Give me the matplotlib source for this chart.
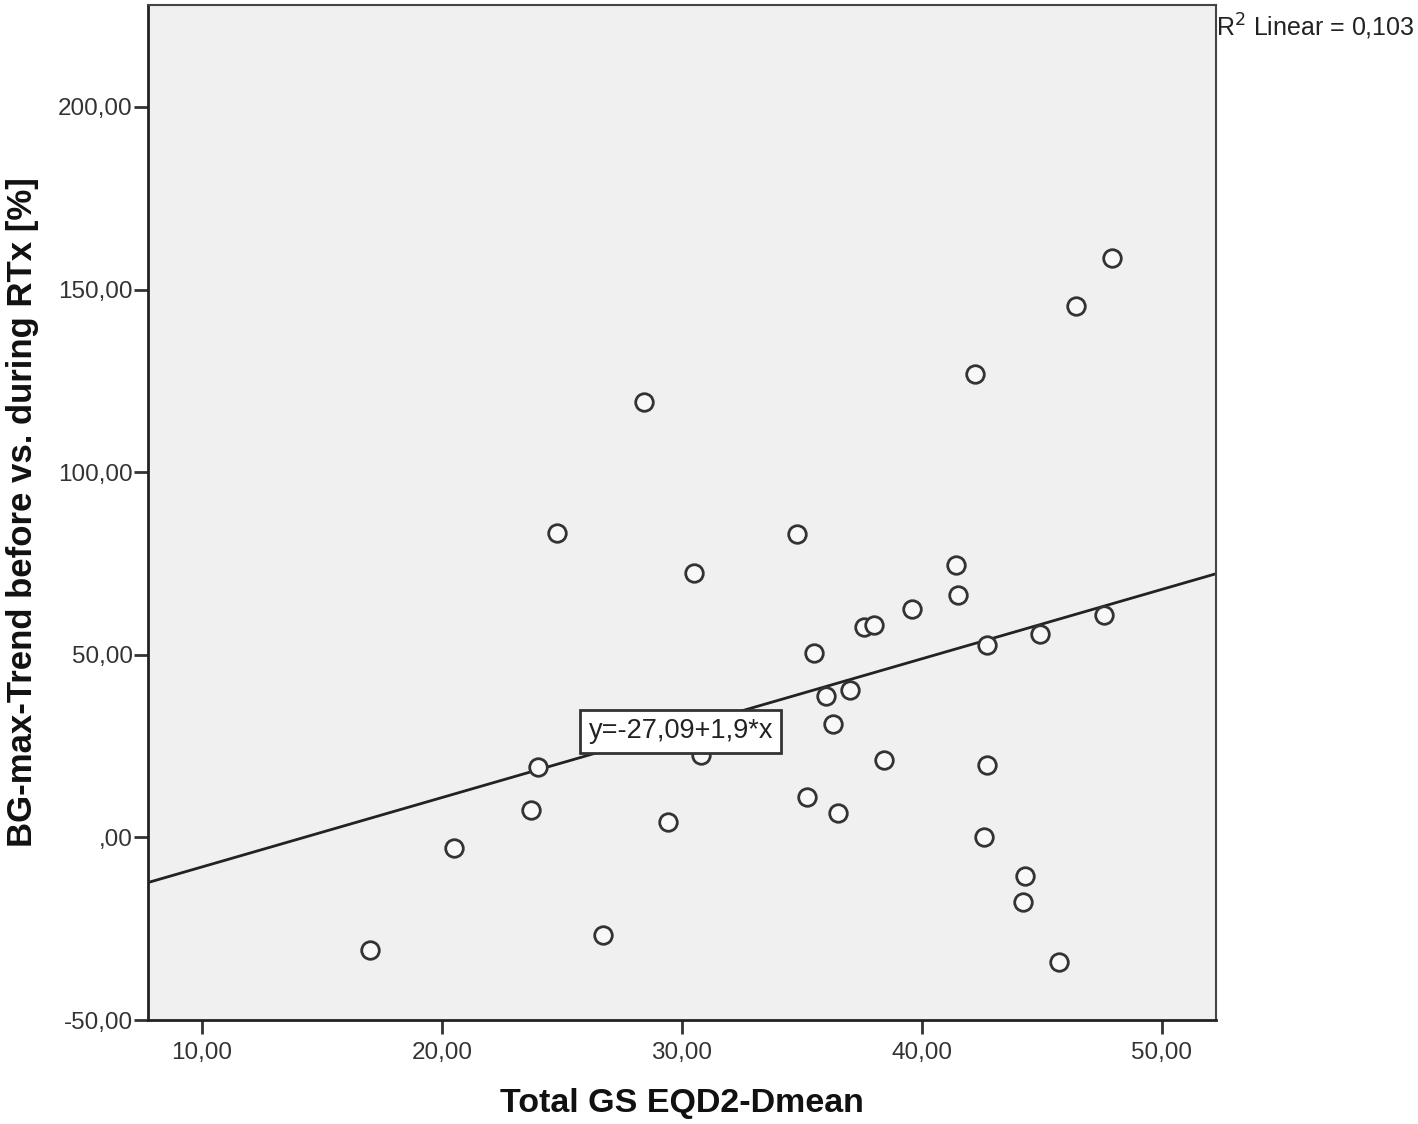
import matplotlib.pyplot as plt
import numpy as np

# Total GS EQD2-Dmean vs. BG-max trend (%)
gs_dmean = [47.9, 46.4, 42.2, 28.4, 24.8, 34.8, 30.5, 41.4, 41.5, 39.6,
            37.6, 38.0, 47.6, 44.9, 42.7, 35.5, 36.0, 37.0, 36.3, 30.8,
            24.0, 38.4, 42.7, 23.7, 35.2, 36.5, 29.4, 42.6, 20.5, 44.3,
            44.2, 17.0, 26.7, 45.7]
bg_trend = [158.6, 145.5, 126.8, 119.2, 83.3, 83.0, 72.3, 74.5, 66.3, 62.5,
            57.5, 58.1, 60.8, 55.6, 52.6, 50.4, 38.6, 40.3, 31.0, 22.5,
            19.2, 21.1, 19.7, 7.4, 11.0, 6.8, 4.1, 0.0, -3.0, -10.7,
            -17.8, -30.7, -26.8, -34.0]

intercept = -27.09
slope = 1.9
r2 = 0.103

x_ticks = [10, 20, 30, 40, 50]
y_ticks = [-50, 0, 50, 100, 150, 200]

FONT = 'Liberation Sans'


def comma(v):
    s = f"{v:.2f}".replace(".", ",")
    if s == "0,00":
        s = ",00"
    return s


fig = plt.figure(figsize=(14.18, 11.24), dpi=100)
ax = fig.add_axes([148 / 1418, 1 - 1020 / 1124, 1068 / 1418, 1015 / 1124])
ax.set_facecolor('#f0f0f0')

xlim = (7.75, 52.25)
ax.set_xlim(xlim)
ax.set_ylim(-50, 227.9)

xs = np.array(xlim)
ax.plot(xs, intercept + slope * xs, color='#222222', linewidth=2, zorder=2)

ax.scatter(gs_dmean, bg_trend, s=160, facecolors='#f8f8f8', edgecolors='#333333',
           linewidths=2, zorder=3)

ax.text(29.95, 29.0, "y=-27,09+1,9*x", fontsize=19.5, color='#222222',
        ha='center', va='center', zorder=4, family=FONT,
        bbox=dict(boxstyle='square,pad=0.3', facecolor='white', edgecolor='#333333', linewidth=2))

ax.set_xticks(x_ticks)
ax.set_xticklabels([comma(v) for v in x_ticks])
ax.set_yticks(y_ticks)
ax.set_yticklabels([comma(v) for v in y_ticks])
ax.tick_params(direction='out', length=10, width=2, labelsize=17.5, colors='#333333',
               labelcolor='#333333')
ax.tick_params(axis='x', pad=6)
ax.tick_params(axis='y', pad=1)
for lab in ax.get_xticklabels() + ax.get_yticklabels():
    lab.set_family(FONT)

for side in ['left', 'bottom']:
    ax.spines[side].set_linewidth(2)
    ax.spines[side].set_color('#222222')
for side in ['top', 'right']:
    ax.spines[side].set_linewidth(1.5)
    ax.spines[side].set_color('#444444')

ax.set_xlabel("Total GS EQD2-Dmean", fontsize=24.5, fontweight='bold',
              family=FONT, color='#111111', labelpad=17)
ax.set_ylabel("BG-max-Trend before vs. during RTx [%]", fontsize=25, fontweight='bold',
              family=FONT, color='#111111', labelpad=14)

fig.text(1315 / 1418, 1 - 27 / 1124, r"R$^2$ Linear = " + f"{r2:.3f}".replace(".", ","),
         fontsize=18, ha='center', va='center', color='#222222', family=FONT)

fig.savefig('out.png', dpi=100, facecolor='white')
